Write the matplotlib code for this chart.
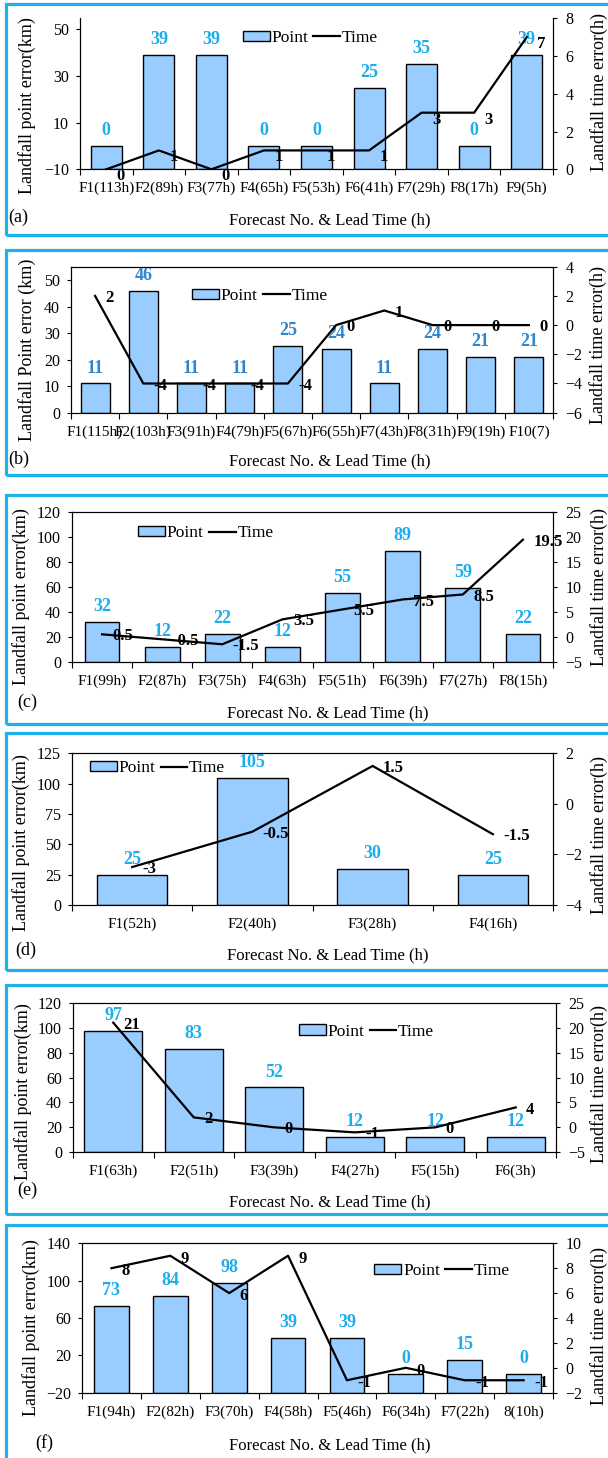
import numpy as np
import matplotlib
matplotlib.use("Agg")
import matplotlib.pyplot as plt
from matplotlib.patches import Rectangle, Patch
from matplotlib.lines import Line2D

plt.rcParams['font.family'] = ['Liberation Serif', 'DejaVu Serif']

# ---- data ----
cats_a = ["F1(113h)", "F2(89h)", "F3(77h)", "F4(65h)", "F5(53h)", "F6(41h)", "F7(29h)", "F8(17h)", "F9(5h)"]
point_a = [0, 39, 39, 0, 0, 25, 35, 0, 39]
time_a = [0, 1, 0, 1, 1, 1, 3, 3, 7]
time_txt_a = ["0", "1", "0", "1", "1", "1", "3", "3", "7"]

cats_b = ["F1(115h)", "F2(103h)", "F3(91h)", "F4(79h)", "F5(67h)", "F6(55h)", "F7(43h)", "F8(31h)", "F9(19h)", "F10(7)"]
point_b = [11, 46, 11, 11, 25, 24, 11, 24, 21, 21]
time_b = [2, -4, -4, -4, -4, 0, 1, 0, 0, 0]
time_txt_b = ["2", "-4", "-4", "-4", "-4", "0", "1", "0", "0", "0"]

cats_c = ["F1(99h)", "F2(87h)", "F3(75h)", "F4(63h)", "F5(51h)", "F6(39h)", "F7(27h)", "F8(15h)"]
point_c = [32, 12, 22, 12, 55, 89, 59, 22]
time_c = [0.5, -0.5, -1.5, 3.5, 5.5, 7.5, 8.5, 19.5]
time_txt_c = ["0.5", "-0.5", "-1.5", "3.5", "5.5", "7.5", "8.5", "19.5"]

cats_d = ["F1(52h)", "F2(40h)", "F3(28h)", "F4(16h)"]
point_d = [25, 105, 30, 25]
time_d = [-2.5, -1.1, 1.5, -1.2]
time_txt_d = ["-3", "-0.5", "1.5", "-1.5"]

cats_e = ["F1(63h)", "F2(51h)", "F3(39h)", "F4(27h)", "F5(15h)", "F6(3h)"]
point_e = [97, 83, 52, 12, 12, 12]
time_e = [21, 2, 0, -1, 0, 4]
time_txt_e = ["21", "2", "0", "-1", "0", "4"]

cats_f = ["F1(94h)", "F2(82h)", "F3(70h)", "F4(58h)", "F5(46h)", "F6(34h)", "F7(22h)", "8(10h)"]
point_f = [73, 84, 98, 39, 39, 0, 15, 0]
time_f = [8, 9, 6, 9, -1, 0, -1, -1]
time_txt_f = ["8", "9", "6", "9", "-1", "0", "-1", "-1"]

# ---- style ----
W, H = 608, 1458
bar_fill = "#99CCFF"
box_blue = "#1FB1EA"
lab_cyan = "#1DADEB"
lab_blue = "#2E86CF"
xlab = "Forecast No. & Lead Time (h)"
ylab_r = "Landfall time error(h)"

fig = plt.figure(figsize=(W / 100, H / 100), dpi=100)


def px_text(x, y, s, **kw):
    fig.text(x / W, 1 - y / H, s, **kw)


def draw(letter, cats, point, time, time_txt, lay):
    # blue frame round the panel
    bt, bb = lay["box"]
    fig.add_artist(Rectangle((6 / W, 1 - bb / H), 630 / W, (bb - bt) / H,
                             transform=fig.transFigure, fill=False,
                             edgecolor=box_blue, linewidth=2.3))
    l, r, t, b = lay["ax"]
    ax = fig.add_axes([l / W, 1 - b / H, (r - l) / W, (b - t) / H])
    n = len(cats)
    x = np.arange(n)
    y0, y1 = lay["ylim"]
    ax.bar(x, np.array(point) - y0, bottom=y0, width=lay["bw"], color=bar_fill,
           edgecolor="black", linewidth=1.0, zorder=2)
    ax.set_ylim(y0, y1)
    ax.set_yticks(lay["yticks"])
    ax.set_xlim(-0.5, n - 0.5)
    ax.set_xticks(np.arange(n + 1) - 0.5)
    ax.set_xticklabels([])
    ax.set_xticks(x, minor=True)
    ax.set_xticklabels(cats, minor=True)
    ax.tick_params(axis="x", which="major", direction="out", length=4, width=0.8)
    ax.tick_params(axis="x", which="minor", length=0, pad=9, labelsize=11)
    ax.tick_params(axis="y", direction="out", length=3, width=0.8, pad=5, labelsize=11.5)
    for p, v in zip(x, point):
        ax.annotate(str(v), (p, v), xytext=(0, 5), textcoords="offset points",
                    ha="center", va="bottom", color=lay["lc"], fontsize=13,
                    fontweight="bold", zorder=4)

    ax2 = ax.twinx()
    ax2.plot(x, time, color="black", linewidth=1.6, zorder=3)
    ax2.set_ylim(*lay["y2lim"])
    ax2.set_yticks(lay["y2ticks"])
    ax2.tick_params(axis="y", direction="out", length=3, width=0.8, pad=6, labelsize=11.5)
    for p, v, s in zip(x, time, time_txt):
        ax2.annotate(s, (p, v), xytext=(7.5, lay["tdy"]), textcoords="offset points",
                     ha="left", va="center", color="black", fontsize=12,
                     fontweight="bold")
    for a in (ax, ax2):
        for sp in a.spines.values():
            sp.set_linewidth(0.8)
        a.spines["top"].set_visible(lay["top"])

    handles = [Patch(facecolor=bar_fill, edgecolor="black", linewidth=1.0),
               Line2D([], [], color="black", linewidth=1.6)]
    ax2.legend(handles, ["Point", "Time"], ncol=2, loc="center left",
               bbox_to_anchor=lay["leg"], frameon=False, borderpad=0,
               handlelength=1.55, handleheight=0.55, handletextpad=0.1,
               columnspacing=0.3, fontsize=12.5, borderaxespad=0)

    xl, yl = lay["xlab"]
    px_text(xl, yl, xlab, ha="center", va="center", fontsize=12)
    lx, ly = lay["letter"]
    px_text(lx, ly, "(" + letter + ")", ha="left", va="center", fontsize=13)
    ylx, yly = lay["ylabL"]
    px_text(ylx, yly, lay["ylab"], ha="center", va="center", rotation=90, fontsize=13)
    yrx, yry = lay["ylabR"]
    px_text(yrx, yry, ylab_r, ha="center", va="center", rotation=90, fontsize=13)


draw("a", cats_a, point_a, time_a, time_txt_a, dict(
    box=(4, 235), ax=(80, 553, 18.3, 169.3), ylim=(-10, 54.7), yticks=[-10, 10, 30, 50],
    y2lim=(0, 8), y2ticks=[0, 2, 4, 6, 8], bw=0.59, lc=lab_cyan, tdy=-5, top=False,
    leg=(0.344, 0.870), xlab=(330, 220), letter=(8, 217), ylabL=(27, 106), ylabR=(599, 92),
    ylab="Landfall point error(km)"))

draw("b", cats_b, point_b, time_b, time_txt_b, dict(
    box=(250, 475), ax=(71, 553, 266.7, 412.7), ylim=(0, 55), yticks=[0, 10, 20, 30, 40, 50],
    y2lim=(-6, 4), y2ticks=[-6, -4, -2, 0, 2, 4], bw=0.60, lc=lab_blue, tdy=-1.5, top=True,
    leg=(0.251, 0.799), xlab=(330, 461), letter=(8, 459), ylabL=(27, 350), ylabR=(598, 345),
    ylab="Landfall Point error (km)"))

draw("c", cats_c, point_c, time_c, time_txt_c, dict(
    box=(495, 724), ax=(72, 553, 512.3, 661.7), ylim=(0, 120), yticks=list(range(0, 121, 20)),
    y2lim=(-5, 25), y2ticks=list(range(-5, 26, 5)), bw=0.58, lc=lab_cyan, tdy=-1.5, top=True,
    leg=(0.137, 0.859), xlab=(328, 713), letter=(17, 702), ylabL=(21, 597), ylabR=(599, 587),
    ylab="Landfall point error(km)"))

draw("d", cats_d, point_d, time_d, time_txt_d, dict(
    box=(733, 970), ax=(72, 553, 753.3, 905), ylim=(0, 125), yticks=list(range(0, 126, 25)),
    y2lim=(-4, 2), y2ticks=[-4, -2, 0, 2], bw=0.586, lc=lab_cyan, tdy=-1.5, top=True,
    leg=(0.037, 0.901), xlab=(328, 955), letter=(15, 950), ylabL=(21, 843), ylabR=(599, 835),
    ylab="Landfall point error(km)"))

draw("e", cats_e, point_e, time_e, time_txt_e, dict(
    box=(985, 1214), ax=(73, 556, 1002.7, 1152.3), ylim=(0, 120), yticks=list(range(0, 121, 20)),
    y2lim=(-5, 25), y2ticks=list(range(-5, 26, 5)), bw=0.72, lc=lab_cyan, tdy=-1.5, top=True,
    leg=(0.4675, 0.806), xlab=(330, 1202), letter=(17, 1190), ylabL=(23, 1092), ylabR=(599, 1084),
    ylab="Landfall point error(km)"))

draw("f", cats_f, point_f, time_f, time_txt_f, dict(
    box=(1225, 1462), ax=(82, 553, 1243.3, 1392.7), ylim=(-20, 140), yticks=[-20, 20, 60, 100, 140],
    y2lim=(-2, 10), y2ticks=[-2, 0, 2, 4, 6, 8, 10], bw=0.59, lc=lab_cyan, tdy=-2, top=True,
    leg=(0.621, 0.815), xlab=(330, 1445), letter=(35, 1443), ylabL=(31, 1328), ylabR=(599, 1326),
    ylab="Landfall point error(km)"))

fig.savefig("out.png", dpi=100)
